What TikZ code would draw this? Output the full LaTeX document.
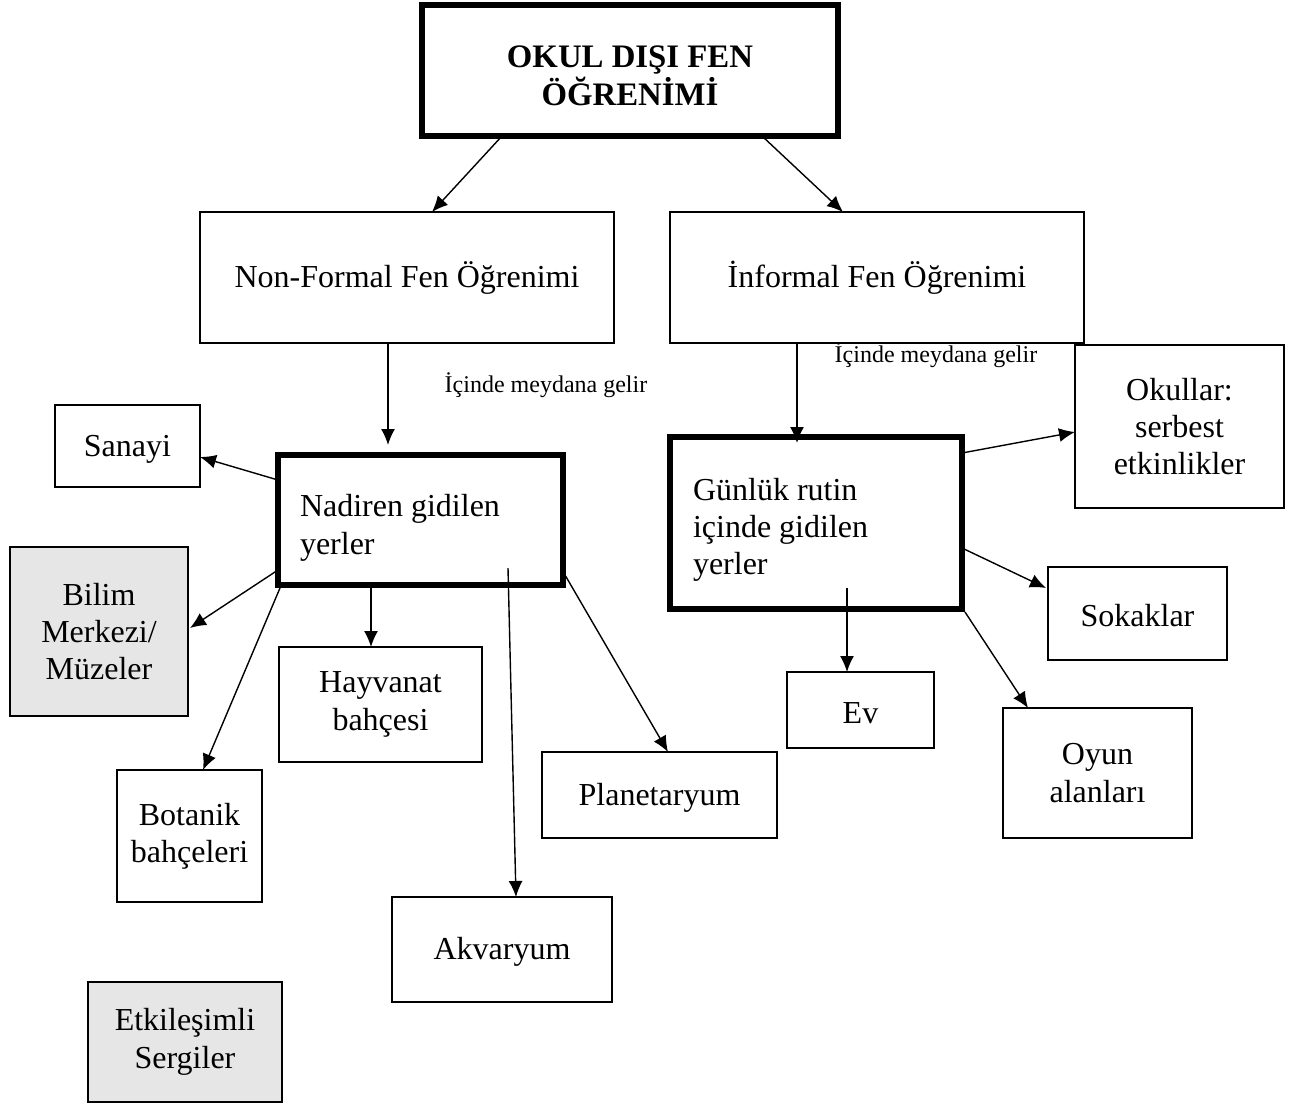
\documentclass[tikz,border=0pt]{standalone}
\usepackage{fontspec}
\setmainfont{Liberation Serif}
\usetikzlibrary{arrows.meta,calc}
\definecolor{boxgray}{HTML}{E6E6E6}
\begin{document}
\begin{tikzpicture}[x=0.5pt,y=-0.5pt,
  box/.style={draw,line width=1.3pt,outer sep=0pt,inner sep=0pt,align=center,
    font=\fontsize{16}{18.7}\selectfont,execute at begin node={\rule{0pt}{13.5pt}}},
  thickbox/.style={draw,line width=2.6pt,outer sep=0pt,inner sep=0pt,
    font=\fontsize{16}{18.7}\selectfont},
  graybox/.style={box,fill=boxgray},
  arr/.style={line width=0.7pt,-{Latex[length=8pt,width=7pt]}},
  lbl/.style={font=\fontsize{12}{14}\selectfont,inner sep=0pt}]
\useasboundingbox (0,0) rectangle (1296,1104);

\node[thickbox,align=center,minimum width=208pt,minimum height=65.5pt,
  font=\fontsize{16.4}{19}\selectfont\bfseries] (top) at (630,70.5) {\rule{0pt}{16.5pt}OKUL DIŞI FEN\\ÖĞRENİMİ};
\node[box,minimum width=207pt,minimum height=65.5pt] (nf) at (407,277.5) {Non-Formal Fen Öğrenimi};
\node[box,minimum width=207pt,minimum height=65.5pt] (inf) at (877,277.5) {İnformal Fen Öğrenimi};

\node[thickbox,align=flush left,text width=120.5pt,inner xsep=11pt,minimum height=65pt] (nad) at (420.5,520) {\rule{0pt}{19pt}Nadiren gidilen\\yerler};
\node[thickbox,align=flush left,text width=123pt,inner xsep=11.5pt,minimum height=86pt] (gun) at (816,523) {\rule{0pt}{18pt}Günlük rutin\\içinde gidilen\\yerler};

\node[box,minimum width=72.5pt,minimum height=41pt] (san) at (127.5,446) {Sanayi};
\node[graybox,minimum width=89pt,minimum height=84.5pt] (bil) at (99,631.5) {Bilim\\Merkezi/\\Müzeler};
\node[box,minimum width=72.5pt,minimum height=66pt] (bot) at (189.5,836) {Botanik\\bahçeleri};
\node[box,minimum width=101.5pt,minimum height=57.5pt] (hay) at (380.5,704.5) {Hayvanat\\bahçesi};
\node[box,minimum width=110pt,minimum height=52.5pt] (akv) at (502,949.5) {Akvaryum};
\node[box,minimum width=117.5pt,minimum height=43pt] (pla) at (659.5,795) {Planetaryum};
\node[graybox,minimum width=97pt,minimum height=60pt] (etk) at (185,1042) {Etkileşimli\\Sergiler};

\node[box,minimum width=104.5pt,minimum height=81.5pt] (oku) at (1179.5,426.5) {Okullar:\\serbest\\etkinlikler};
\node[box,minimum width=89.5pt,minimum height=46.5pt] (sok) at (1137.5,613.5) {Sokaklar};
\node[box,minimum width=73.5pt,minimum height=38pt] (ev) at (860.5,710) {Ev};
\node[box,minimum width=94.5pt,minimum height=65pt] (oyu) at (1097.5,773) {Oyun\\alanları};

\node[lbl] (l1) at (546,385) {İçinde meydana gelir};
\node[lbl] (l2) at (936,355) {İçinde meydana gelir};

\draw[arr] ($(top.south west)+(80,0)$) -- ($(nf.north west)+(232,0)$);
\draw[arr] ($(top.south west)+(340,0)$) -- ($(inf.north west)+(173,0)$);
\draw[arr] ($(nf.south west)+(188,0)$) -- ($(nad.north west)+(110,-10)$);
\draw[arr] ($(inf.south west)+(127,0)$) -- ($(gun.north west)+(127,6)$);

\draw[arr] ($(nad.north west)+(0,25)$) -- ($(san.south east)+(0,-30)$);
\draw[arr] ($(nad.south west)+(0,-15)$) -- ($(bil.north east)+(2,81)$);
\draw[arr] ($(nad.south west)+(2,3)$) -- ($(bot.north west)+(86,0)$);
\draw[arr] ($(nad.south west)+(93,0)$) -- ($(hay.north west)+(92,0)$);
\draw[arr] ($(nad.south west)+(230,-17)$) -- ($(akv.north west)+(124,0)$);
\draw[arr] ($(nad.south east)+(2,-10)$) -- ($(pla.north west)+(126,0)$);

\draw[arr] ($(gun.north east)+(0,16)$) -- ($(oku.north west)+(0,87)$);
\draw[arr] ($(gun.north east)+(0,111)$) -- ($(sok.north west)+(-2,21)$);
\draw[arr] ($(gun.south west)+(177,-21)$) -- ($(ev.north west)+(60,0)$);
\draw[arr] ($(gun.south east)+(3,3)$) -- ($(oyu.north west)+(25,0)$);
\end{tikzpicture}
\end{document}
